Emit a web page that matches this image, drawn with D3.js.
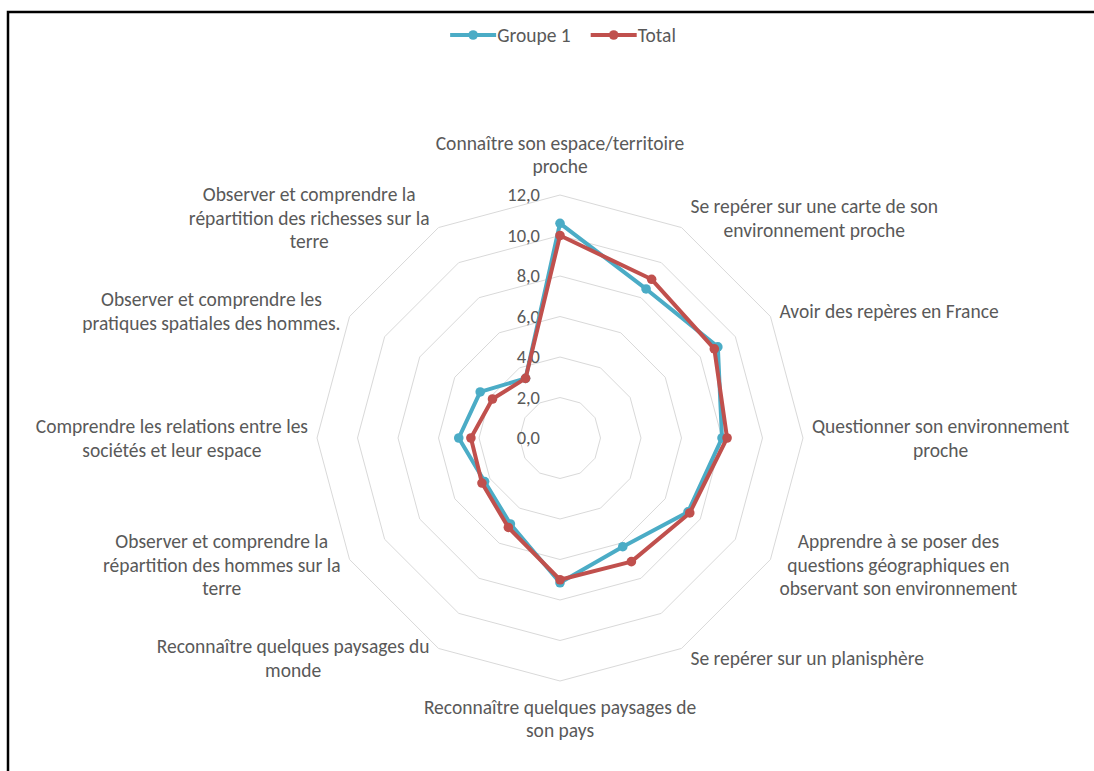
<!DOCTYPE html>
<html>
<head>
<meta charset="utf-8">
<script src="https://cdn.jsdelivr.net/npm/d3@7"></script>
<style>
  html, body { margin: 0; padding: 0; background: #fff; }
  svg text { font-family: Carlito, Calibri, Lato, "Open Sans", sans-serif; fill: #595959; }
</style>
</head>
<body>
<svg id="chart" width="1094" height="771"></svg>
<script>
// ---- data ----
const categories = [
  ["Connaître son espace/territoire", "proche"],
  ["Se repérer sur une carte de son", "environnement proche"],
  ["Avoir des repères en France"],
  ["Questionner son environnement", "proche"],
  ["Apprendre à se poser des", "questions géographiques en", "observant son environnement"],
  ["Se repérer sur un planisphère"],
  ["Reconnaître quelques paysages de", "son pays"],
  ["Reconnaître quelques paysages du", "monde"],
  ["Observer et comprendre la", "répartition des hommes sur la", "terre"],
  ["Comprendre les relations entre les", "sociétés et leur espace"],
  ["Observer et comprendre les", "pratiques spatiales des hommes."],
  ["Observer et comprendre la", "répartition des richesses sur la", "terre"]
];
const seriesNames = ["Groupe 1", "Total"];
const groupe1 = [10.6, 8.5, 9.0, 8.0, 7.3, 6.2, 7.15, 4.9, 4.3, 5.0, 4.55, 3.4];
const total   = [10.0, 9.05, 8.8, 8.25, 7.4, 7.05, 7.0, 5.1, 4.45, 4.4, 3.85, 3.4];
const tickValues = [0, 2, 4, 6, 8, 10, 12];
const tickLabels = ["0,0", "2,0", "4,0", "6,0", "8,0", "10,0", "12,0"];

// ---- layout ----
const svg = d3.select("#chart");
const cx = 560, cy = 438, R = 243;
const colors = ["#4BACC6", "#C0504D"];
const fontSize = 19.5, lineH = 23.5;
const n = categories.length;

const r = d3.scaleLinear().domain([0, 12]).range([0, R]);
const angle = d3.scaleLinear().domain([0, n]).range([0, 2 * Math.PI]);
const pt = (i, v) => [cx + r(v) * Math.sin(angle(i)), cy - r(v) * Math.cos(angle(i))];

svg.append("rect").attr("width", 1094).attr("height", 771).attr("fill", "#fff");
// border (top and left visible)
svg.append("path").attr("d", "M8,771 L8,12 L1094,12")
  .attr("fill", "none").attr("stroke", "#000").attr("stroke-width", 2.5);

// grid rings
const ring = d3.line().curve(d3.curveLinearClosed);
svg.append("g").selectAll("path").data(tickValues.filter(t => t > 0)).join("path")
  .attr("d", t => ring(d3.range(n).map(i => pt(i, t))))
  .attr("fill", "none").attr("stroke", "#d9d9d9").attr("stroke-width", 1);

// tick labels
svg.append("g").selectAll("text").data(tickValues).join("text")
  .attr("x", cx - 20).attr("y", t => cy - r(t))
  .attr("dy", "0.35em").attr("text-anchor", "end")
  .attr("font-size", 18.5)
  .text((t, i) => tickLabels[i]);

// category labels
const labG = svg.append("g");
categories.forEach((lines, i) => {
  const a = angle(i);
  const s = Math.sin(a), c = Math.cos(a);
  const [ox, oy] = pt(i, 12);
  const g = labG.append("g");
  const texts = lines.map(l => g.append("text").attr("font-size", fontSize).attr("text-anchor", "middle").text(l));
  const w = d3.max(texts, t => t.node().getComputedTextLength());
  const h = lines.length * lineH;
  let bx, by; // box center
  if (Math.abs(s) < 0.01) {
    bx = ox;
    by = c > 0 ? oy - 17 - h / 2 : oy + 14 + h / 2;
  } else {
    bx = s > 0 ? ox + 9 + w / 2 : ox - 9 - w / 2;
    by = oy - c * 11;
  }
  texts.forEach((t, k) => {
    t.attr("x", bx).attr("y", by - h / 2 + lineH * (k + 0.5)).attr("dy", "0.35em");
  });
});

// series
const lineGen = d3.line().curve(d3.curveLinearClosed);
[groupe1, total].forEach((vals, si) => {
  const g = svg.append("g");
  const pts = vals.map((v, i) => pt(i, v));
  g.append("path").attr("d", lineGen(pts)).attr("fill", "none")
    .attr("stroke", colors[si]).attr("stroke-width", 4).attr("stroke-linejoin", "round");
  g.selectAll("circle").data(pts).join("circle")
    .attr("cx", d => d[0]).attr("cy", d => d[1]).attr("r", 4.8)
    .attr("fill", colors[si]);
});

// legend
const leg = svg.append("g");
let x = 0;
seriesNames.forEach((name, si) => {
  const g = leg.append("g").attr("transform", `translate(${x},0)`);
  g.append("line").attr("x1", 0).attr("x2", 46).attr("y1", 0).attr("y2", 0)
    .attr("stroke", colors[si]).attr("stroke-width", 4);
  g.append("circle").attr("cx", 23).attr("cy", 0).attr("r", 4.8).attr("fill", colors[si]);
  const t = g.append("text").attr("x", 47).attr("dy", "0.35em").attr("font-size", fontSize).text(name);
  const w = 47 + t.node().getComputedTextLength();
  x += w + 20;
});
const totalW = x - 20;
leg.attr("transform", `translate(${cx + 3 - totalW / 2},35)`);
</script>
</body>
</html>
